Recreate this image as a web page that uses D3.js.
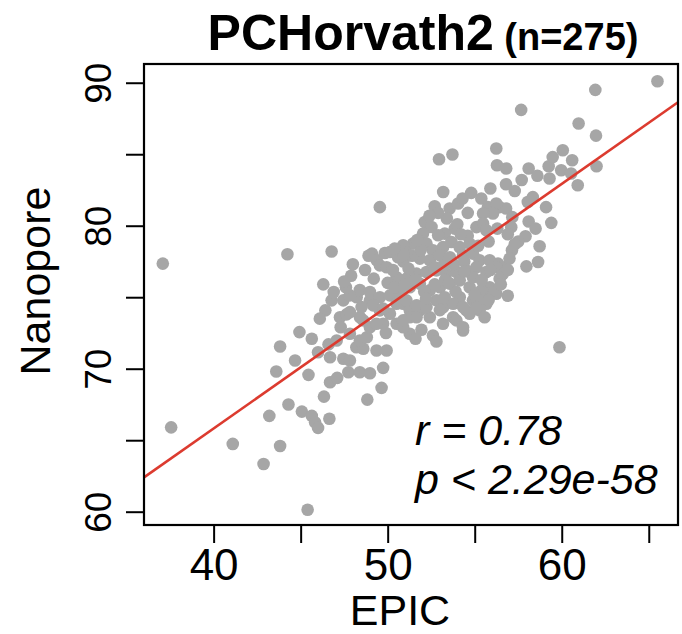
<!DOCTYPE html>
<html>
<head>
<meta charset="utf-8">
<script src="https://cdn.jsdelivr.net/npm/d3@7"></script>
<style>
  body { margin: 0; background: #fff; }
  svg text { font-family: "Liberation Sans", Arial, Helvetica, sans-serif; fill: #000; }
</style>
</head>
<body>
<div id="chart"></div>
<script>
// EPIC vs Nanopore age estimates
const epic = [
  37.08, 37.56, 41.1, 42.87, 43.82, 45.4, 43.2, 44.3, 45.07, 45.64,
  45.83, 46.0, 46.65, 46.34, 43.6, 44.68, 43.82, 44.93, 45.64, 45.45,
  46.69, 47.1, 46.42, 47.26, 47.64, 46.0, 46.6, 47.07, 46.69, 47.45,
  47.83, 47.74, 48.4, 48.98, 49.74, 49.65, 48.83, 49.36, 49.94, 48.2,
  48.6, 47.83, 48.4, 48.8, 46.78, 47.45, 48.22, 48.98, 49.55, 50.13,
  50.51, 50.89, 51.27, 49.74, 48.41, 48.98, 59.87, 54.33, 52.6, 51.94,
  51.27, 50.89, 53.18, 53.76, 54.52, 55.28, 55.67, 54.9, 54.14, 53.18,
  51.85, 51.27, 52.42, 56.24, 55.48, 65.5, 61.93, 57.67, 60.97, 61.97,
  56.24, 52.95, 53.72, 56.28, 56.81, 58.1, 59.25, 59.48, 60.06, 60.6,
  62.0, 59.3, 59.97, 60.54, 60.92, 53.19, 57.3, 55.9, 52.7, 53.56,
  54.05, 54.6, 55.38, 55.76, 56.43, 56.8, 57.16, 58.05, 58.34, 59.1,
  57.92, 58.73, 57.14, 57.97, 58.64, 56.34, 56.72, 56.43, 55.86, 55.38,
  56.14, 49.55, 44.24, 46.78, 49.1, 49.36, 46.3, 47.9, 46.9, 48.4,
  49.84, 56.24, 56.05, 55.48, 57.1, 55.38, 55.1, 55.57, 52.13, 52.52,
  52.03, 53.85, 53.28, 52.9, 55.1, 55.48, 55.67, 51.46, 50.89, 50.13,
  49.55, 49.94, 52.23, 52.6, 53.18, 53.66, 54.14, 54.71, 51.85, 52.42,
  53.0, 53.57, 54.33, 54.9, 55.28, 55.86, 56.24, 50.51, 51.08, 51.66,
  52.23, 52.8, 53.37, 53.95, 54.52, 55.1, 55.67, 47.83, 48.98, 49.55,
  50.13, 50.7, 51.27, 51.85, 52.42, 53.0, 53.57, 54.14, 54.71, 47.83,
  48.5, 49.17, 49.74, 50.51, 51.08, 51.66, 52.23, 52.8, 53.28, 53.76,
  54.33, 54.71, 53.95, 51.66, 50.89, 49.36, 48.6, 54.33, 50.3, 50.9,
  51.4, 51.9, 52.7, 53.3, 53.8, 54.4, 54.9, 55.4, 55.9, 56.6,
  57.0, 57.5, 56.9, 56.3, 55.8, 55.2, 54.6, 54.0, 53.4, 52.9,
  51.7, 51.1, 50.6, 50.0, 49.2, 48.7, 48.0, 47.6, 50.4, 51.0,
  51.6, 52.1, 52.7, 53.2, 53.9, 54.4, 55.0, 55.8, 56.5, 56.9,
  57.3, 58.1, 58.5, 59.4, 56.8, 57.7, 58.6, 54.8, 54.3, 52.4,
  50.9, 50.4, 48.9, 47.5, 52.2, 53.0, 49.9, 47.3, 46.1, 51.6,
  52.8, 56.9, 53.5, 54.2, 51.2
];
const nanopore = [
  77.35, 65.9, 64.74, 63.34, 64.6, 60.14, 66.7, 67.5, 67.0, 66.7,
  66.25, 65.86, 66.5, 68.05, 69.8, 70.57, 71.55, 72.56, 72.1, 69.57,
  69.05, 69.36, 74.08, 73.6, 73.8, 71.15, 71.7, 71.97, 70.8, 70.7,
  70.57, 69.75, 69.75, 69.68, 70.06, 68.66, 67.84, 71.27, 71.27, 71.5,
  71.4, 72.44, 71.97, 72.2, 74.78, 74.78, 75.0, 74.78, 74.08, 73.84,
  73.14, 74.54, 74.08, 73.14, 73.6, 72.9, 71.5, 72.67, 72.32, 72.72,
  72.44, 72.9, 73.14, 73.6, 74.08, 74.08, 74.54, 74.78, 75.0, 74.3,
  74.08, 73.6, 73.6, 75.24, 75.13, 90.1, 89.5, 88.1, 87.15, 86.3,
  85.4, 84.65, 84.98, 84.23, 84.0, 84.0, 84.16, 84.8, 85.28, 84.58,
  84.16, 83.3, 83.88, 83.65, 82.83, 82.36, 82.43, 82.6, 81.36, 81.2,
  81.55, 80.9, 81.9, 81.3, 81.3, 81.2, 80.6, 81.66, 82.0, 81.3,
  79.26, 78.56, 78.28, 77.16, 77.46, 77.35, 77.1, 76.3, 75.7, 75.48,
  75.36, 81.3, 78.0, 78.2, 78.05, 77.6, 75.9, 76.5, 75.36, 75.5,
  78.09, 81.55, 80.85, 80.85, 79.9, 74.9, 74.3, 73.6, 80.26, 79.91,
  79.45, 79.8, 79.45, 79.33, 79.9, 80.15, 79.68, 78.75, 78.63, 78.16,
  77.23, 77.1, 78.75, 78.28, 78.5, 78.86, 78.5, 78.75, 77.7, 77.58,
  77.93, 77.8, 77.93, 78.05, 77.58, 77.58, 77.1, 76.4, 76.3, 76.65,
  76.76, 76.88, 76.65, 76.76, 76.88, 77.1, 76.76, 75.13, 75.36, 75.0,
  75.13, 75.25, 75.7, 75.95, 75.48, 75.7, 75.95, 76.18, 75.7, 73.96,
  74.31, 74.43, 74.2, 74.54, 74.78, 74.43, 74.31, 74.78, 75.0, 74.54,
  74.31, 73.84, 73.38, 73.6, 73.38, 73.14, 73.38, 72.9, 76.9, 77.5,
  77.9, 78.3, 77.1, 76.2, 77.3, 77.5, 76.4, 76.2, 76.9, 76.6,
  77.7, 78.9, 79.4, 79.8, 78.9, 78.6, 79.3, 80.1, 80.5, 80.9,
  79.0, 78.1, 77.8, 76.0, 76.3, 76.9, 77.3, 75.7, 75.7, 75.9,
  76.2, 75.4, 75.9, 77.2, 75.4, 76.8, 75.2, 74.8, 75.9, 76.9,
  78.7, 80.3, 79.8, 80.2, 82.9, 83.2, 83.5, 82.3, 81.9, 80.7,
  78.0, 78.4, 77.9, 76.1, 74.9, 74.1, 72.5, 72.9, 73.5, 72.1,
  71.9, 75.1, 76.0, 79.4, 77.0
];

// linear fit
const fitIntercept = 31.62;
const fitSlope = 0.855;

const xTicks = [40, 45, 50, 55, 60, 65];
const yTicks = [60, 65, 70, 75, 80, 85, 90];
const xLabelTicks = [40, 50, 60];
const yLabelTicks = [60, 70, 80, 90];

const titleMain = "PCHorvath2";
const titleSub = " (n=275)";
const statR = "r = 0.78";
const statP = "p < 2.29e-58";

const svgWidth = 682;
const svgHeight = 634;
const margin = { top: 64, right: 4, bottom: 109, left: 144 };
const chartWidth = svgWidth - margin.left - margin.right;
const chartHeight = svgHeight - margin.top - margin.bottom;

const svg = d3.select("#chart")
    .append("svg")
    .attr("width", svgWidth)
    .attr("height", svgHeight);

const chart = svg.append("g")
    .attr("transform", `translate(${margin.left},${margin.top})`);

const xScale = d3.scaleLinear()
    .domain([36.0, 66.68])
    .range([0, chartWidth]);

const yScale = d3.scaleLinear()
    .domain([59.07, 91.31])
    .range([chartHeight, 0]);

const points = epic.map((e, i) => ({ x: e, y: nanopore[i] }));

chart.selectAll(".dot")
    .data(points)
    .enter()
    .append("circle")
    .attr("class", "dot")
    .attr("cx", d => xScale(d.x))
    .attr("cy", d => yScale(d.y))
    .attr("r", 6.3)
    .style("fill", "#a6a6a6");

// fitted line across the whole x range
const xDom = xScale.domain();
chart.append("line")
    .attr("x1", xScale(xDom[0]))
    .attr("y1", yScale(fitIntercept + fitSlope * xDom[0]))
    .attr("x2", xScale(xDom[1]))
    .attr("y2", yScale(fitIntercept + fitSlope * xDom[1]))
    .style("stroke", "#dc3b2f")
    .style("stroke-width", 2.6);

// axes
const xAxis = chart.append("g")
    .attr("transform", `translate(0,${chartHeight})`)
    .call(d3.axisBottom(xScale)
        .tickValues(xTicks)
        .tickSize(18)
        .tickPadding(6)
        .tickFormat(d => xLabelTicks.includes(d) ? d : ""));
xAxis.select(".domain").remove();
xAxis.selectAll("line").style("stroke", "#000").style("stroke-width", 2);
xAxis.selectAll("text")
    .style("font-size", "44px")
    .style("font-family", "'Liberation Sans', Arial, sans-serif");

const yAxis = chart.append("g")
    .call(d3.axisLeft(yScale)
        .tickValues(yTicks)
        .tickSize(18)
        .tickFormat(d => yLabelTicks.includes(d) ? d : ""));
yAxis.select(".domain").remove();
yAxis.selectAll("line").style("stroke", "#000").style("stroke-width", 2);
yAxis.selectAll("text")
    .attr("transform", "rotate(-90)")
    .attr("x", 0)
    .attr("y", -33)
    .attr("dy", 0)
    .style("text-anchor", "middle")
    .style("font-size", "37px")
    .style("font-family", "'Liberation Sans', Arial, sans-serif");

// box
chart.append("rect")
    .attr("width", chartWidth)
    .attr("height", chartHeight)
    .style("fill", "none")
    .style("stroke", "#000")
    .style("stroke-width", 2.2);

// axis titles
svg.append("text")
    .attr("x", 400)
    .attr("y", 625)
    .style("text-anchor", "middle")
    .style("font-size", "43px")
    .text("EPIC");

svg.append("text")
    .attr("transform", "translate(50,281) rotate(-90)")
    .style("text-anchor", "middle")
    .style("font-size", "43px")
    .text("Nanopore");

// title
const title = svg.append("text")
    .attr("x", 423)
    .attr("y", 50)
    .style("text-anchor", "middle")
    .style("font-weight", "bold");
title.append("tspan").style("font-size", "50px").text(titleMain);
title.append("tspan").style("font-size", "38px").text(titleSub);

// stats
svg.append("text")
    .attr("x", 415)
    .attr("y", 445)
    .style("font-size", "43px")
    .style("font-style", "italic")
    .text(statR);

svg.append("text")
    .attr("x", 415)
    .attr("y", 494)
    .style("font-size", "43px")
    .style("font-style", "italic")
    .text(statP);
</script>
</body>
</html>
